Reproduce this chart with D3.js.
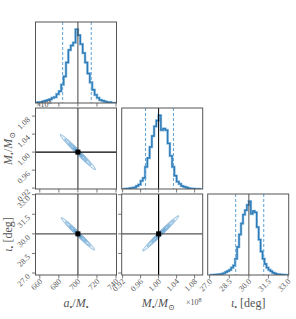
<!DOCTYPE html>
<html>
<head>
<meta charset="UTF-8">
<script src="https://cdn.jsdelivr.net/npm/d3@7"></script>
<style>
  body { margin: 0; background: #fff; }
  svg { display: block; }
  text { font-family: "Liberation Serif", "DejaVu Serif", serif; fill: #555; }
</style>
</head>
<body>
<div id="chart"></div>
<script>
// ---- data ----
// injected (true) values
const truthA = 700, truthM = 1.00, truthI = 30.0;

// 1D histograms (relative heights), bin left edges = start + i*step
const aStart = 655, aStep = 2.5;
const aCounts = [0, 0.01, 0.01, 0.02, 0.03, 0.04, 0.05, 0.07, 0.08, 0.12, 0.16, 0.25,
  0.36, 0.55, 0.72, 0.78, 0.82, 1.0, 0.92, 0.80, 0.68, 0.55, 0.40, 0.28, 0.18, 0.11,
  0.07, 0.04, 0.03, 0.02, 0.01, 0.01, 0, 0];

const mStart = 0.92, mStep = 0.005;
const mCounts = [0, 0.003, 0.005, 0.01, 0.015, 0.02, 0.04, 0.06, 0.11, 0.15, 0.30, 0.42,
  0.57, 0.72, 0.85, 0.93, 1.0, 0.80, 0.82, 0.80, 0.62, 0.45, 0.30, 0.18, 0.10, 0.07,
  0.04, 0.03, 0.02, 0.01, 0.005, 0.003, 0, 0, 0];

const iStart = 27.0, iStep = 0.15;
const iCounts = [0, 0, 0.003, 0.005, 0.008, 0.01, 0.015, 0.025, 0.04, 0.055, 0.07, 0.10,
  0.13, 0.22, 0.38, 0.55, 0.70, 0.82, 0.88, 0.95, 1.0, 0.83, 0.87, 0.85, 0.65, 0.48,
  0.32, 0.22, 0.15, 0.10, 0.07, 0.05, 0.03, 0.02, 0.01, 0.008, 0.005, 0.003, 0, 0];

// 16% / 84% quantiles (dashed lines)
const aQuant = [684, 714];
const mQuant = [0.971, 1.033];
const iQuant = [28.99, 31.14];

// axis ranges and ticks
const aRange = [655.5, 740.5];
const mRange = [0.918, 1.098];
const iRange = [26.85, 33.05];
const aTicks = [660, 680, 700, 720, 740];
const mTicks = [0.92, 0.96, 1.00, 1.04, 1.08];
const iTicks = [27.0, 28.5, 30.0, 31.5, 33.0];

// 2D contours: centre, half extents, correlation
const amCentre = [700, 1.0],   amHalf = [18.5, 0.039], amRho = -0.983;
const aiCentre = [700, 30.0],  aiHalf = [17.5, 1.24],  aiRho = -0.983;
const miCentre = [1.0047, 30.04], miHalf = [0.040, 1.35], miRho = 0.985;
const levels = [1.0, 0.75, 0.5, 0.25];
const levelFill = ["#eaf3fa", "#cfe3f3", "#b0d2ec", "#8dbde2"];

// ---- layout ----
const W = 296, H = 319;
const colX = [35.5, 121.7, 207.7], rowY = [22, 108, 194], S = 81;

const svg = d3.select("#chart").append("svg").attr("width", W).attr("height", H);

const params = [
  { range: aRange, ticks: aTicks, fmt: d3.format("d"), truth: truthA, tcol: "#444",
    start: aStart, step: aStep, counts: aCounts, quant: aQuant },
  { range: mRange, ticks: mTicks, fmt: d3.format(".2f"), truth: truthM, tcol: "#000",
    start: mStart, step: mStep, counts: mCounts, quant: mQuant },
  { range: iRange, ticks: iTicks, fmt: d3.format(".1f"), truth: truthI, tcol: "#555",
    start: iStart, step: iStep, counts: iCounts, quant: iQuant }
];

function xScale(c) { return d3.scaleLinear().domain(params[c].range).range([colX[c], colX[c] + S]); }
function yScale(r) { return d3.scaleLinear().domain(params[r].range).range([rowY[r] + S, rowY[r]]); }

let clipId = 0;
function clipFor(x0, y0) {
  const id = "c" + (clipId++);
  svg.append("clipPath").attr("id", id).append("rect")
    .attr("x", x0).attr("y", y0).attr("width", S).attr("height", S);
  return "url(#" + id + ")";
}

function frame(x0, y0) {
  svg.append("rect").attr("x", x0).attr("y", y0).attr("width", S).attr("height", S)
    .attr("fill", "none").attr("stroke", "#555").attr("stroke-width", 1);
}

function bottomTicks(c, r, labels) {
  const x = xScale(c), y0 = rowY[r] + S;
  params[c].ticks.forEach(t => {
    svg.append("line").attr("x1", x(t)).attr("x2", x(t)).attr("y1", y0).attr("y2", y0 + 3.5)
      .attr("stroke", "#555").attr("stroke-width", 0.8);
    if (labels) {
      svg.append("text").attr("transform", `translate(${x(t) + 3},${y0 + 7}) rotate(-45)`)
        .attr("text-anchor", "end").attr("font-size", 8).text(params[c].fmt(t));
    }
  });
}

function leftTicks(c, r, labels) {
  const y = yScale(r), x0 = colX[c];
  params[r].ticks.forEach(t => {
    svg.append("line").attr("x1", x0 - 3.5).attr("x2", x0).attr("y1", y(t)).attr("y2", y(t))
      .attr("stroke", "#555").attr("stroke-width", 0.8);
    if (labels) {
      svg.append("text").attr("transform", `translate(${x0 - 5},${y(t) + 4}) rotate(-45)`)
        .attr("text-anchor", "end").attr("font-size", 8).text(params[r].fmt(t));
    }
  });
}

// ---- diagonal histograms ----
params.forEach((p, k) => {
  const x = xScale(k);
  const y = d3.scaleLinear().domain([0, 1.1]).range([rowY[k] + S, rowY[k]]);
  const pts = [];
  p.counts.forEach((v, i) => {
    pts.push([p.start + i * p.step, v]);
    pts.push([p.start + (i + 1) * p.step, v]);
  });
  const line = d3.line().x(d => x(d[0])).y(d => y(d[1]));
  const g = svg.append("g").attr("clip-path", clipFor(colX[k], rowY[k]));
  g.append("path").attr("d", line(pts)).attr("fill", "none")
    .attr("stroke", "#9cc6e6").attr("stroke-width", 2.6);
  g.append("path").attr("d", line(pts)).attr("fill", "none")
    .attr("stroke", "#2c7bb6").attr("stroke-width", 1.4);
  p.quant.forEach(q => {
    g.append("line").attr("x1", x(q)).attr("x2", x(q)).attr("y1", rowY[k]).attr("y2", rowY[k] + S)
      .attr("stroke", "#5fa2d6").attr("stroke-width", 1).attr("stroke-dasharray", "3,2");
  });
  g.append("line").attr("x1", x(p.truth)).attr("x2", x(p.truth)).attr("y1", rowY[k]).attr("y2", rowY[k] + S)
    .attr("stroke", p.tcol).attr("stroke-width", 1);
  frame(colX[k], rowY[k]);
  bottomTicks(k, k, k === 2);
});

// ---- 2D panels ----
function panel2d(c, r, centre, half, rho) {
  const x = xScale(c), y = yScale(r);
  const g = svg.append("g").attr("clip-path", clipFor(colX[c], rowY[r]));
  const q = Math.sqrt(1 - rho * rho);
  levels.forEach((lv, li) => {
    const pts = d3.range(0, 2 * Math.PI + 0.01, Math.PI / 60).map(t => {
      const u = Math.cos(t), v = Math.sin(t);
      return [centre[0] + lv * half[0] * u, centre[1] + lv * half[1] * (rho * u + q * v)];
    });
    g.append("path").attr("d", d3.line().x(d => x(d[0])).y(d => y(d[1]))(pts))
      .attr("fill", levelFill[li]).attr("stroke", "#4a92c8").attr("stroke-width", 0.6);
  });
  g.append("line").attr("x1", x(params[c].truth)).attr("x2", x(params[c].truth))
    .attr("y1", rowY[r]).attr("y2", rowY[r] + S).attr("stroke", params[c].tcol).attr("stroke-width", 1.2);
  g.append("line").attr("x1", colX[c]).attr("x2", colX[c] + S)
    .attr("y1", y(params[r].truth)).attr("y2", y(params[r].truth))
    .attr("stroke", params[r].tcol).attr("stroke-width", 1.2);
  g.append("rect").attr("x", x(params[c].truth) - 2.5).attr("y", y(params[r].truth) - 2.5)
    .attr("width", 5).attr("height", 5).attr("fill", "#000");
  frame(colX[c], rowY[r]);
  bottomTicks(c, r, r === 2);
  leftTicks(c, r, c === 0);
}

panel2d(0, 1, amCentre, amHalf, amRho);
panel2d(0, 2, aiCentre, aiHalf, aiRho);
panel2d(1, 2, miCentre, miHalf, miRho);

// ---- axis labels ----
function label(parent, parts) {
  parts.forEach(p => {
    const ts = parent.append("tspan").text(p[0]);
    if (p[1] === "i") ts.attr("font-style", "italic");
    if (p[1] === "sub") ts.attr("font-size", 8).attr("dy", 2.5);
    if (p[1] === "up") ts.attr("dy", -2.5);
  });
  return parent;
}
const aLab = [["a", "i"], ["\u2022", "sub"], ["/", "up"], ["M", "i"], ["\u2022", "sub"]];
const mLab = [["M", "i"], ["\u2022", "sub"], ["/", "up"], ["M", "i"], ["\u2299", "sub"]];
const iLab = [["\u03b9", "i"], ["\u2022", "sub"], [" [deg]", "up"]];

label(svg.append("text").attr("x", colX[0] + S / 2).attr("y", 307).attr("text-anchor", "middle")
  .attr("font-size", 12), aLab);
label(svg.append("text").attr("x", colX[1] + S / 2 - 4).attr("y", 307).attr("text-anchor", "middle")
  .attr("font-size", 12), mLab);
label(svg.append("text").attr("x", colX[2] + S / 2).attr("y", 307).attr("text-anchor", "middle")
  .attr("font-size", 12), iLab);
label(svg.append("text").attr("transform", `translate(12,${rowY[1] + S / 2}) rotate(-90)`)
  .attr("text-anchor", "middle").attr("font-size", 12), mLab);
label(svg.append("text").attr("transform", `translate(12,${rowY[2] + S / 2}) rotate(-90)`)
  .attr("text-anchor", "middle").attr("font-size", 12), iLab);

// offset texts (x 10^8)
function offset(xp, yp) {
  const t = svg.append("text").attr("x", xp).attr("y", yp).attr("font-size", 8);
  t.append("tspan").text("\u00d710");
  t.append("tspan").attr("font-size", 6).attr("dy", -3).text("8");
}
offset(36, 107);
offset(186, 305);
</script>
</body>
</html>
